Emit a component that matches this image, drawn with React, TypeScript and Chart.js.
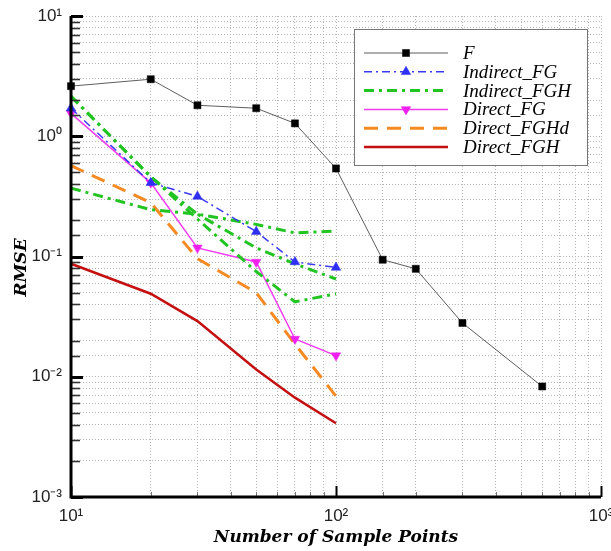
import { useEffect, useRef } from 'react';
import { Chart, registerables } from 'chart.js';
import { drawPoint } from 'chart.js/helpers';

Chart.register(...registerables);

// ---- data ----
const sampleX = [10, 20, 30, 50, 70, 100];
const fX = [10, 20, 30, 50, 70, 100, 150, 200, 300, 600];
const fY = [2.61, 2.98, 1.81, 1.71, 1.28, 0.54, 0.094, 0.079, 0.028, 0.0083];
const indirectFG = [1.71, 0.41, 0.316, 0.161, 0.09, 0.081];
const indirectFGH_a = [2.15, 0.46, 0.225, 0.185, 0.157, 0.163];
const indirectFGH_b = [0.37, 0.245, 0.225, 0.118, 0.087, 0.065];
const indirectFGH_c = [2.15, 0.46, 0.205, 0.075, 0.042, 0.049];
const directFG = [1.55, 0.41, 0.118, 0.09, 0.0206, 0.015];
const directFGHd = [0.57, 0.28, 0.096, 0.05, 0.0187, 0.0069];
const directFGH = [0.087, 0.049, 0.029, 0.0115, 0.0067, 0.0041];

const xTickLabels: Record<number, string> = { 1: '10\u00B9', 2: '10\u00B2', 3: '10\u00B3' };
const yTickLabels: Record<number, string> = {
  [-3]: '10\u207B\u00B3',
  [-2]: '10\u207B\u00B2',
  [-1]: '10\u207B\u00B9',
  0: '10\u2070',
  1: '10\u00B9',
};
const xTitle = 'Number of Sample Points';
const yTitle = 'RMSE';

const pts = (xs: number[], ys: number[]) => xs.map((x, i) => ({ x, y: ys[i] }));

const isPow10 = (v: number) => {
  const l = Math.log10(v);
  return Math.abs(l - Math.round(l)) < 1e-6;
};

const axesPlugin = {
  id: 'inwardAxes',
  afterDraw(chart: any) {
    const { ctx, chartArea, scales } = chart;
    const { left, right, top, bottom } = chartArea;
    const xs = scales.x;
    const ys = scales.y;
    ctx.save();
    ctx.setLineDash([]);
    ys.ticks.forEach((t: any) => {
      const py = Math.round(ys.getPixelForValue(t.value)) + 0.5;
      const major = isPow10(t.value);
      ctx.beginPath();
      ctx.lineWidth = major ? 3 : 1.6;
      ctx.strokeStyle = major ? '#000' : '#333';
      ctx.moveTo(left, py);
      ctx.lineTo(left + (major ? 12 : 9), py);
      ctx.stroke();
    });
    xs.ticks.forEach((t: any) => {
      const px = Math.round(xs.getPixelForValue(t.value)) + 0.5;
      const major = isPow10(t.value);
      ctx.beginPath();
      ctx.lineWidth = major ? 2 : 1;
      ctx.strokeStyle = major ? '#000' : '#777';
      ctx.moveTo(px, bottom);
      ctx.lineTo(px, bottom - (major ? 11 : 5));
      ctx.stroke();
    });
    ctx.beginPath();
    ctx.lineWidth = 3;
    ctx.strokeStyle = '#000';
    ctx.moveTo(left, top);
    ctx.lineTo(left, bottom);
    ctx.lineTo(right, bottom);
    ctx.stroke();

    // y axis title
    ctx.save();
    ctx.translate(22, (top + bottom) / 2 + 11);
    ctx.rotate(-Math.PI / 2);
    ctx.font = 'italic bold 17px "DejaVu Serif"';
    ctx.fillStyle = '#000';
    ctx.textAlign = 'center';
    ctx.textBaseline = 'middle';
    ctx.fillText(yTitle, 0, 0);
    ctx.restore();

    // legend
    const items = chart.data.datasets.filter((d: any) => !d.hideInLegend);
    const bx = right - 247;
    const by = top + 13;
    const bw = 233;
    const bh = 136;
    ctx.fillStyle = '#fff';
    ctx.fillRect(bx, by, bw, bh);
    ctx.lineWidth = 1;
    ctx.strokeStyle = '#777';
    ctx.strokeRect(bx + 0.5, by + 0.5, bw, bh);
    ctx.font = 'italic 19px "Liberation Serif"';
    ctx.textBaseline = 'middle';
    ctx.textAlign = 'left';
    items.forEach((d: any, i: number) => {
      const ry = by + 24 + i * 18.8;
      ctx.save();
      ctx.beginPath();
      ctx.setLineDash(d.borderDash || []);
      ctx.lineWidth = d.borderWidth;
      ctx.strokeStyle = d.borderColor;
      ctx.moveTo(bx + 10, ry);
      ctx.lineTo(bx + 94, ry);
      ctx.stroke();
      ctx.restore();
      if (d.pointRadius > 0) {
        ctx.save();
        ctx.fillStyle = d.pointBackgroundColor;
        ctx.strokeStyle = d.pointBackgroundColor;
        ctx.lineWidth = 0.5;
        drawPoint(ctx, { pointStyle: d.pointStyle, rotation: d.pointRotation || 0, radius: d.pointRadius, borderWidth: 0.5 }, bx + 52, ry);
        ctx.restore();
      }
      ctx.fillStyle = '#000';
      ctx.fillText(d.label, bx + 109, ry + 1);
    });
    ctx.restore();
  },
};

export default function App() {
  const ref = useRef<HTMLCanvasElement | null>(null);
  useEffect(() => {
    if (!ref.current) return;
    const common = { pointRadius: 0, pointHoverRadius: 0, tension: 0, fill: false, clip: 12 };
    const chart = new Chart(ref.current, {
      type: 'line',
      data: {
        datasets: [
          {
            label: 'F', data: pts(fX, fY), ...common,
            borderColor: '#333', borderWidth: 0.8,
            pointStyle: 'rect', pointRadius: 5, pointBackgroundColor: '#000', pointBorderColor: '#000', pointBorderWidth: 0.5,
          },
          {
            label: 'Indirect_FG', data: pts(sampleX, indirectFG), ...common,
            borderColor: '#3a3af5', borderWidth: 1.5, borderDash: [8, 4, 2, 4],
            pointStyle: 'triangle', pointRadius: 5.5, pointBackgroundColor: '#2e2ef5', pointBorderColor: '#2e2ef5', pointBorderWidth: 0.5,
          },
          {
            label: 'Indirect_FGH', data: pts(sampleX, indirectFGH_a), ...common,
            borderColor: '#22c422', borderWidth: 3, borderDash: [10, 5, 3, 5],
          },
          {
            label: 'Indirect_FGH', data: pts(sampleX, indirectFGH_b), ...common, hideInLegend: true,
            borderColor: '#22c422', borderWidth: 3, borderDash: [10, 5, 3, 5],
          },
          {
            label: 'Indirect_FGH', data: pts(sampleX, indirectFGH_c), ...common, hideInLegend: true,
            borderColor: '#22c422', borderWidth: 3, borderDash: [10, 5, 3, 5],
          },
          {
            label: 'Direct_FG', data: pts(sampleX, directFG), ...common,
            borderColor: '#f03cf0', borderWidth: 1.5,
            pointStyle: 'triangle', pointRotation: 180, pointRadius: 5.5, pointBackgroundColor: '#f020f0', pointBorderColor: '#f020f0', pointBorderWidth: 0.5,
          },
          {
            label: 'Direct_FGHd', data: pts(sampleX, directFGHd), ...common,
            borderColor: '#f68a22', borderWidth: 3, borderDash: [14, 9],
          },
          {
            label: 'Direct_FGH', data: pts(sampleX, directFGH), ...common,
            borderColor: '#c41010', borderWidth: 2.5,
          },
        ] as any,
      },
      options: {
        responsive: false,
        animation: false,
        events: [],
        layout: { padding: { top: 16, right: 10, left: 0, bottom: 0 } },
        plugins: { legend: { display: false }, tooltip: { enabled: false } },
        scales: {
          x: {
            type: 'logarithmic',
            min: 10,
            max: 1000,
            grid: { color: '#b4b4b4', lineWidth: 1, drawTicks: false },
            border: { display: false, dash: [1, 2] },
            ticks: {
              autoSkip: false,
              maxRotation: 0,
              padding: 9,
              color: '#222',
              font: { family: '"Liberation Sans"', size: 17 },
              callback: (v: any) => (isPow10(Number(v)) ? xTickLabels[Math.round(Math.log10(Number(v)))] || '' : ''),
            },
            title: {
              display: true,
              text: xTitle,
              color: '#000',
              font: { family: '"DejaVu Serif"', size: 17, style: 'italic', weight: 'bold' },
              padding: { top: 0, bottom: 3 },
            },
            afterFit: (s: any) => {
              s.height = 54;
              s.paddingLeft = 0;
              s.paddingRight = 0;
            },
          },
          y: {
            type: 'logarithmic',
            min: 0.001,
            max: 10,
            grid: { color: '#b4b4b4', lineWidth: 1, drawTicks: false },
            border: { display: false, dash: [1, 2] },
            ticks: {
              autoSkip: false,
              padding: 9,
              color: '#222',
              font: { family: '"Liberation Sans"', size: 17 },
              callback: (v: any) => (isPow10(Number(v)) ? yTickLabels[Math.round(Math.log10(Number(v)))] || '' : ''),
            },
            afterFit: (s: any) => {
              s.width = 71;
              s.paddingTop = 0;
              s.paddingBottom = 0;
            },
          },
        },
      } as any,
      plugins: [axesPlugin],
    });
    return () => chart.destroy();
  }, []);
  return (
    <div style={{ position: 'absolute', left: 0, top: 0, width: 611, height: 551, background: '#fff' }}>
      <canvas ref={ref} width={611} height={551} />
    </div>
  );
}
